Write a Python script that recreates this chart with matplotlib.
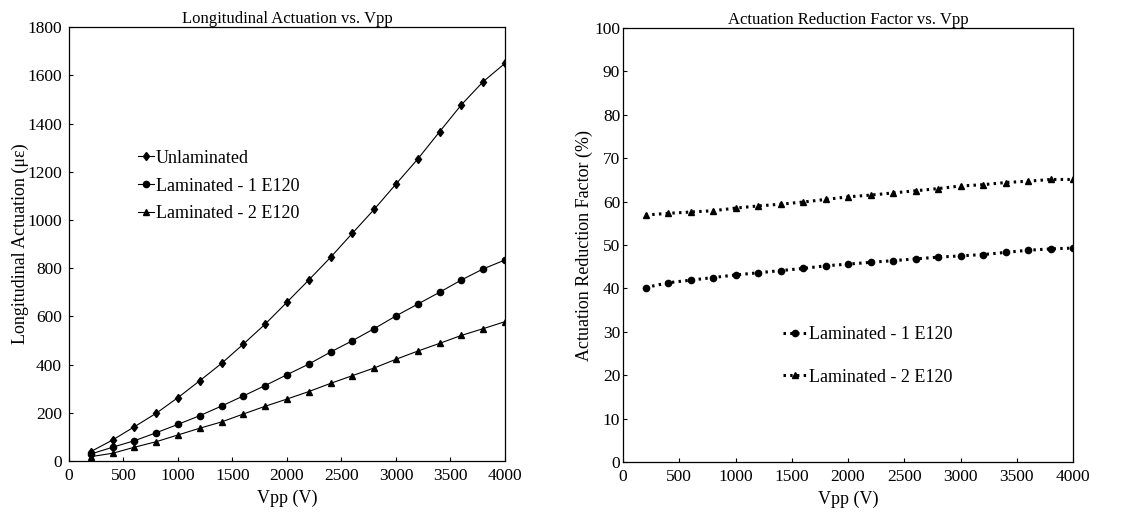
import matplotlib.pyplot as plt

plt.rcParams['font.family'] = ['Liberation Serif', 'DejaVu Serif']

vpp = [200, 400, 600, 800, 1000, 1200, 1400, 1600, 1800, 2000,
       2200, 2400, 2600, 2800, 3000, 3200, 3400, 3600, 3800, 4000]

# longitudinal actuation (micro-strain)
unlaminated = [39, 87, 142, 198, 263, 333, 405, 485, 568, 659,
               751, 845, 945, 1044, 1149, 1253, 1366, 1478, 1574, 1650]
lam_1 = [29, 57, 84, 117, 152, 188, 228, 270, 313, 358,
         402, 452, 499, 549, 602, 651, 700, 751, 797, 834]
lam_2 = [18, 32, 57, 80, 108, 136, 162, 195, 227, 257,
         288, 322, 354, 386, 422, 456, 488, 521, 549, 578]

# actuation reduction factor (%)
arf_1 = [40.2, 41.3, 41.9, 42.5, 43.1, 43.6, 44.1, 44.6, 45.2, 45.6,
         46.0, 46.4, 46.8, 47.2, 47.5, 47.8, 48.3, 48.8, 49.1, 49.3]
arf_2 = [56.9, 57.3, 57.6, 57.9, 58.5, 59.0, 59.4, 59.9, 60.5, 61.1,
         61.5, 62.0, 62.5, 63.0, 63.6, 63.9, 64.4, 64.7, 65.1, 65.1]

fig = plt.figure(figsize=(11.44, 5.13), dpi=100)
ax1 = fig.add_axes([0.0603, 0.1014, 0.3811, 0.8456])
ax2 = fig.add_axes([0.5446, 0.0994, 0.3934, 0.8460])

fs = 12.5

ax1.plot(vpp, unlaminated, color='k', lw=0.8, marker='d', ms=4.5, label='Unlaminated')
ax1.plot(vpp, lam_1, color='k', lw=0.8, marker='o', ms=4.5, label='Laminated - 1 E120')
ax1.plot(vpp, lam_2, color='k', lw=0.8, marker='^', ms=4.5, label='Laminated - 2 E120')
ax1.set_xlim(0, 4000)
ax1.set_ylim(0, 1800)
ax1.set_xticks(range(0, 4001, 500))
ax1.set_yticks(range(0, 1801, 200))
ax1.set_title('Longitudinal Actuation vs. Vpp', fontsize=12, pad=3)
ax1.set_xlabel('Vpp (V)', fontsize=13, labelpad=4)
ax1.set_ylabel('Longitudinal Actuation (\u03bc\u03b5)', fontsize=13, labelpad=-1)
ax1.legend(loc='upper left', bbox_to_anchor=(0.12, 0.755), frameon=False,
           fontsize=13, handlelength=0.9, handletextpad=0.1, labelspacing=0.6)
ax1.tick_params(labelsize=fs, length=3, width=0.8, direction='in', pad=5)

ax2.plot(vpp, arf_1, color='k', lw=2.2, ls=(0, (0.8, 1.4)), marker='o', ms=4.5,
         label='Laminated - 1 E120')
ax2.plot(vpp, arf_2, color='k', lw=2.2, ls=(0, (0.8, 1.4)), marker='^', ms=4.5,
         label='Laminated - 2 E120')
ax2.set_xlim(0, 4000)
ax2.set_ylim(0, 100)
ax2.set_xticks(range(0, 4001, 500))
ax2.set_yticks(range(0, 101, 10))
ax2.set_title('Actuation Reduction Factor vs. Vpp', fontsize=12, pad=3)
ax2.set_xlabel('Vpp (V)', fontsize=13, labelpad=4)
ax2.set_ylabel('Actuation Reduction Factor (%)', fontsize=13, labelpad=1)
ax2.legend(loc='upper left', bbox_to_anchor=(0.32, 0.35), frameon=False,
           fontsize=13, handlelength=1.3, handletextpad=0.1, labelspacing=1.4)
ax2.tick_params(labelsize=fs, length=3, width=0.8, direction='in', pad=5)
ax2.tick_params(axis='y', pad=2)

for ax in (ax1, ax2):
    for s in ax.spines.values():
        s.set_linewidth(0.9)

fig.savefig('out.png', dpi=100)
